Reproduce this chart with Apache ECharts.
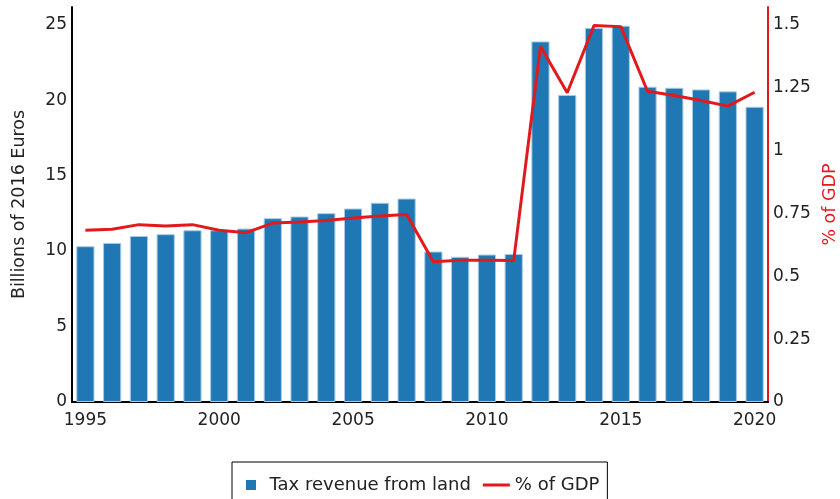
<!DOCTYPE html>
<html>
<head>
<meta charset="utf-8">
<script src="https://cdn.jsdelivr.net/npm/echarts@6/dist/echarts.min.js"></script>
<style>
  html, body { margin: 0; padding: 0; background: #fff; }
  #chart { width: 840px; height: 499px; }
</style>
</head>
<body>
<div id="chart"></div>
<script>
// data
var years = ['1995', '1996', '1997', '1998', '1999', '2000', '2001', '2002', '2003', '2004', '2005', '2006', '2007',
  '2008', '2009', '2010', '2011', '2012', '2013', '2014', '2015', '2016', '2017', '2018', '2019', '2020'];
var taxRevenue = [10.32, 10.54, 11.0, 11.12, 11.38, 11.38, 11.49, 12.18, 12.29, 12.51, 12.82, 13.2, 13.48,
  9.97, 9.62, 9.77, 9.81, 23.89, 20.34, 24.78, 24.93, 20.89, 20.82, 20.71, 20.58, 19.56];
var gdpShare = [0.683, 0.687, 0.705, 0.70, 0.705, 0.683, 0.673, 0.711, 0.715, 0.721, 0.731, 0.739, 0.745,
  0.557, 0.563, 0.563, 0.562, 1.414, 1.229, 1.496, 1.492, 1.235, 1.218, 1.198, 1.176, 1.231];

var font = 'DejaVu Sans, Verdana, sans-serif';
var red = '#e31a1c';
var chart = echarts.init(document.getElementById('chart'));
chart.setOption({
  animation: false,
  textStyle: { fontFamily: font },
  grid: { left: 72, right: 72, top: 7, bottom: 97, outerBoundsMode: 'none' },
  legend: {
    left: 232,
    top: 462,
    padding: [14, 8, 30, 14],
    borderColor: '#000',
    borderWidth: 1,
    itemWidth: 27,
    itemHeight: 10,
    itemGap: 12,
    textStyle: { fontFamily: font, fontSize: 18, color: '#222' },
    data: [
      { name: 'Tax revenue from land', icon: 'path://M0 0H10V10H0Z', itemStyle: { color: '#1f77b4', borderWidth: 0 } },
      { name: '% of GDP', icon: 'path://M0 0H27V3H0Z', itemStyle: { color: red, borderWidth: 0 } }
    ]
  },
  xAxis: {
    type: 'category',
    data: years,
    boundaryGap: true,
    axisLine: { lineStyle: { color: '#000', width: 2 } },
    axisTick: { interval: 4, alignWithLabel: true, length: 5, lineStyle: { color: '#444' } },
    axisLabel: { interval: 4, fontSize: 17, color: '#222', margin: 10, fontFamily: font }
  },
  yAxis: [
    {
      type: 'value',
      min: 0,
      max: 26.17,
      interval: 5,
      name: 'Billions of 2016 Euros',
      nameLocation: 'middle',
      nameRotate: 90,
      nameGap: 44,
      nameTextStyle: { fontSize: 17.5, color: '#222', fontFamily: font },
      axisLine: { show: true, lineStyle: { color: '#000', width: 2 } },
      axisTick: { show: false },
      splitLine: { show: false },
      axisLabel: { fontSize: 17, color: '#222', margin: 5, showMaxLabel: false, fontFamily: font }
    },
    {
      type: 'value',
      min: 0,
      max: 1.57,
      interval: 0.25,
      position: 'right',
      name: '% of GDP',
      nameLocation: 'middle',
      nameRotate: 90,
      nameGap: 53,
      nameTextStyle: { fontSize: 17.5, color: red, fontFamily: font },
      axisLine: { show: true, lineStyle: { color: red, width: 2 } },
      axisTick: { show: false },
      splitLine: { show: false },
      axisLabel: { fontSize: 17, color: '#222', margin: 5, showMaxLabel: false, fontFamily: font }
    }
  ],
  series: [
    {
      name: 'Tax revenue from land',
      type: 'bar',
      barWidth: '68%',
      itemStyle: { color: '#1f77b4', borderColor: '#a9cbe6', borderWidth: 1 },
      data: taxRevenue
    },
    {
      name: '% of GDP',
      type: 'line',
      yAxisIndex: 1,
      symbol: 'none',
      z: 5,
      lineStyle: { color: red, width: 3 },
      itemStyle: { color: red },
      data: gdpShare
    }
  ]
});
</script>
</body>
</html>
